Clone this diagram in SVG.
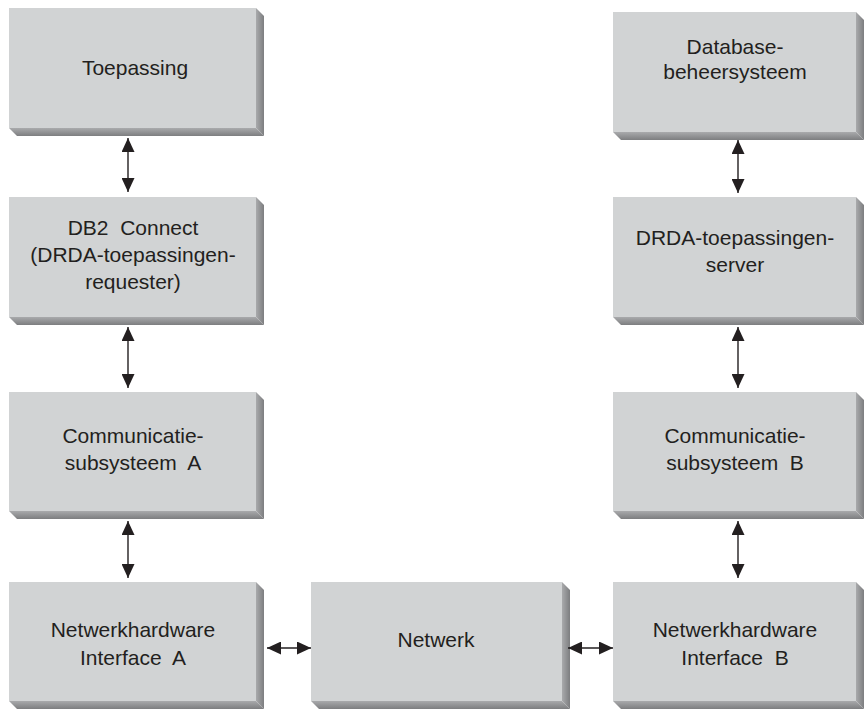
<svg xmlns="http://www.w3.org/2000/svg" width="864" height="709" viewBox="0 0 864 709">
<defs>
<linearGradient id="gR" x1="0" y1="0" x2="1" y2="0"><stop offset="0" stop-color="#a9aaac"/><stop offset="1" stop-color="#7d7e80"/></linearGradient>
<linearGradient id="gB" x1="0" y1="0" x2="0" y2="1"><stop offset="0" stop-color="#a9aaac"/><stop offset="1" stop-color="#7d7e80"/></linearGradient>
<marker id="ah" markerUnits="userSpaceOnUse" markerWidth="14" markerHeight="13" refX="14" refY="6.5" orient="auto-start-reverse"><path d="M0,0 L14,6.5 L0,13 z" fill="#231f20"/></marker>
<style>
.face{fill:#d1d3d4}
.sr{fill:url(#gR)}
.sb{fill:url(#gB)}
text{font-family:"Liberation Sans",Arial,sans-serif;font-size:21px;fill:#231f20;text-anchor:middle;white-space:pre}
.c line{stroke:#231f20;stroke-width:1.4;marker-start:url(#ah);marker-end:url(#ah)}
</style>
</defs>
<g id="toepassing">
<polygon class="sr" points="256,8 264,16 264,136 256,128"/>
<polygon class="sb" points="9,128 256,128 264,136 17,136"/>
<rect class="face" x="9" y="8" width="247" height="120"/>
<text x="135" y="75">Toepassing</text>
</g>
<g id="db2connect">
<polygon class="sr" points="256,197 264,205 264,325 256,317"/>
<polygon class="sb" points="9,317 256,317 264,325 17,325"/>
<rect class="face" x="9" y="197" width="247" height="120"/>
<text x="133" y="235" xml:space="preserve">DB2  Connect</text>
<text x="133" y="262">(DRDA-toepassingen-</text>
<text x="133" y="289">requester)</text>
</g>
<g id="commA">
<polygon class="sr" points="256,392 264,400 264,519 256,511"/>
<polygon class="sb" points="9,511 256,511 264,519 17,519"/>
<rect class="face" x="9" y="392" width="247" height="119"/>
<text x="133" y="443">Communicatie-</text>
<text x="133" y="470" xml:space="preserve">subsysteem  A</text>
</g>
<g id="nwA">
<polygon class="sr" points="256,582 264,590 264,709 256,701"/>
<polygon class="sb" points="9,701 256,701 264,709 17,709"/>
<rect class="face" x="9" y="582" width="247" height="119"/>
<text x="133" y="637">Netwerkhardware</text>
<text x="133" y="665" xml:space="preserve">Interface  A</text>
</g>
<g id="netwerk">
<polygon class="sr" points="562,582 570,590 570,709 562,701"/>
<polygon class="sb" points="311,701 562,701 570,709 319,709"/>
<rect class="face" x="311" y="582" width="251" height="119"/>
<text x="436" y="647">Netwerk</text>
</g>
<g id="dbms">
<polygon class="sr" points="856,12 864,20 864,140 856,132"/>
<polygon class="sb" points="613,132 856,132 864,140 621,140"/>
<rect class="face" x="613" y="12" width="243" height="120"/>
<text x="735" y="54">Database-</text>
<text x="735" y="79">beheersysteem</text>
</g>
<g id="drdaserver">
<polygon class="sr" points="856,197 864,205 864,325 856,317"/>
<polygon class="sb" points="613,317 856,317 864,325 621,325"/>
<rect class="face" x="613" y="197" width="243" height="120"/>
<text x="735" y="245">DRDA-toepassingen-</text>
<text x="735" y="272">server</text>
</g>
<g id="commB">
<polygon class="sr" points="856,392 864,400 864,519 856,511"/>
<polygon class="sb" points="613,511 856,511 864,519 621,519"/>
<rect class="face" x="613" y="392" width="243" height="119"/>
<text x="735" y="443">Communicatie-</text>
<text x="735" y="470" xml:space="preserve">subsysteem  B</text>
</g>
<g id="nwB">
<polygon class="sr" points="856,582 864,590 864,709 856,701"/>
<polygon class="sb" points="613,701 856,701 864,709 621,709"/>
<rect class="face" x="613" y="582" width="243" height="119"/>
<text x="735" y="637">Netwerkhardware</text>
<text x="735" y="665" xml:space="preserve">Interface  B</text>
</g>
<g id="connectors" class="c">
<line x1="128" y1="138" x2="128" y2="192"/>
<line x1="128" y1="327" x2="128" y2="388"/>
<line x1="128" y1="521" x2="128" y2="578"/>
<line x1="738" y1="140" x2="738" y2="193"/>
<line x1="738" y1="327" x2="738" y2="388"/>
<line x1="738" y1="521" x2="738" y2="578"/>
<line x1="267" y1="648" x2="311" y2="648"/>
<line x1="568" y1="648" x2="613" y2="648"/>
</g>
</svg>
